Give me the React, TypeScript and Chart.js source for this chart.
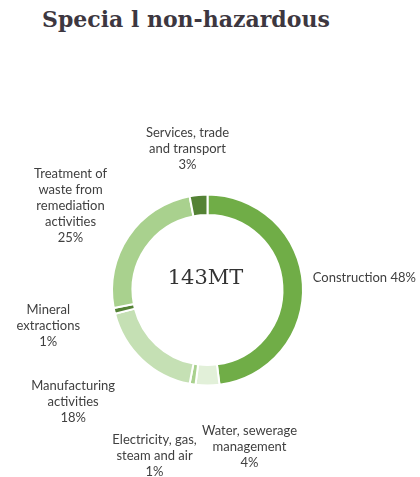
import React, { useEffect, useRef } from "react";
import { Chart, registerables } from "chart.js";

Chart.register(...registerables);

const categories: string[][] = [
  ["Construction 48%"],
  ["Water, sewerage", "management", "4%"],
  ["Electricity, gas,", "steam and air", "1%"],
  ["Manufacturing", "activities", "18%"],
  ["Mineral", "extractions", "1%"],
  ["Treatment of", "waste from", "remediation", "activities", "25%"],
  ["Services, trade", "and transport", "3%"],
];
const shares: number[] = [48, 4, 1, 18, 1, 25, 3];
const colors: string[] = ["#70AD47", "#E2F0D9", "#A9D18E", "#C5E0B4", "#548235", "#A9D18E", "#548235"];
const centerText = "143MT";
const titleText = "Specia l non-hazardous";

// label placement: offset from the arc's outer-edge midpoint
const labelDx: number[] = [10, 42, -38, -69, -66, -58, -11];
const labelDy: number[] = [-6, 61, 71, 42, 15, -31, -46];
const labelAlign: CanvasTextAlign[] = ["left", "center", "center", "center", "center", "center", "center"];

const labelPlugin = {
  id: "outerLabels",
  afterDatasetsDraw(chart: any) {
    const ctx = chart.ctx;
    const meta = chart.getDatasetMeta(0);
    ctx.save();
    ctx.font = "13px Lato";
    ctx.fillStyle = "#404040";
    ctx.textBaseline = "middle";
    const lh = 16;
    meta.data.forEach((arc: any, i: number) => {
      const { x, y, startAngle, endAngle, outerRadius } = arc.getProps(["x", "y", "startAngle", "endAngle", "outerRadius"], true);
      const mid = (startAngle + endAngle) / 2;
      const ex = x + Math.cos(mid) * outerRadius;
      const ey = y + Math.sin(mid) * outerRadius;
      const lines = categories[i];
      const cx = ex + labelDx[i];
      const cy = ey + labelDy[i];
      ctx.textAlign = labelAlign[i];
      const top = cy - ((lines.length - 1) * lh) / 2;
      lines.forEach((l, j) => ctx.fillText(l, cx, top + j * lh));
    });
    // center text
    const a0 = meta.data[0];
    ctx.font = "21px 'DejaVu Serif'";
    ctx.fillStyle = "#333333";
    ctx.textAlign = "center";
    ctx.fillText(centerText, a0.x - 2, a0.y - 11);
    ctx.restore();
  },
};

export default function App() {
  const ref = useRef<HTMLCanvasElement | null>(null);
  useEffect(() => {
    document.body.style.margin = "0";
    const chart = new Chart(ref.current as HTMLCanvasElement, {
      type: "doughnut",
      data: {
        labels: categories.map((c) => c.join(" ")),
        datasets: [
          {
            data: shares,
            backgroundColor: colors,
            borderColor: "#ffffff",
            borderWidth: 2,
          },
        ],
      },
      options: {
        animation: false,
        responsive: false,
        cutout: "78.5%",
        layout: { padding: { left: 111, right: 116, top: 193, bottom: 90 } },
        plugins: { legend: { display: false }, tooltip: { enabled: false }, title: { display: false } },
      },
      plugins: [labelPlugin],
    });
    return () => chart.destroy();
  }, []);
  return (
    <div style={{ position: "relative", width: 420, height: 477, background: "#fff" }}>
      <div
        style={{
          position: "absolute",
          left: 42,
          top: 6,
          fontFamily: "'DejaVu Serif', serif",
          fontWeight: "bold",
          fontSize: 22,
          color: "#3d3740",
          whiteSpace: "nowrap",
        }}
      >
        {titleText}
      </div>
      <canvas ref={ref} width={420} height={477} style={{ position: "absolute", left: 0, top: 0 }} />
    </div>
  );
}
